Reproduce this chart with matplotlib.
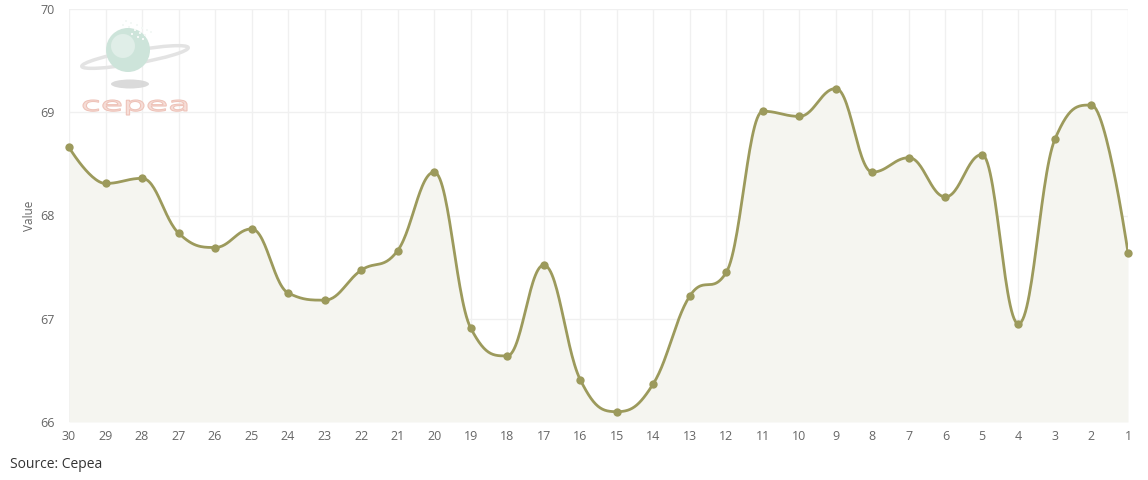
import numpy as np
import matplotlib
matplotlib.use("Agg")
import matplotlib.pyplot as plt
from matplotlib.patches import Circle, Ellipse, PathPatch, Rectangle
from matplotlib.textpath import TextPath
from matplotlib.font_manager import FontProperties
from matplotlib.transforms import Affine2D

plt.rcParams['font.family'] = ['Open Sans', 'DejaVu Sans']

# --- data ---
days = [str(d) for d in range(30, 0, -1)]
values = [68.66, 68.31, 68.36, 67.83, 67.69, 67.87, 67.25, 67.18, 67.47, 67.66,
          68.42, 66.91, 66.64, 67.52, 66.41, 66.10, 66.37, 67.22, 67.45, 69.01,
          68.96, 69.23, 68.42, 68.56, 68.18, 68.59, 66.95, 68.74, 69.07, 67.64]
y_ticks = [66, 67, 68, 69, 70]

LINE = '#9c9a5c'
FILL = '#f5f5f0'
GRID = '#f0f0f0'
TXT = '#666666'


def spline_path(xs, ys, smoothing=1.5, n=30):
    # highcharts-like spline: bezier with collinear control points
    denom = smoothing + 1
    m = len(xs)
    lc = [(x, y) for x, y in zip(xs, ys)]
    rc = [(x, y) for x, y in zip(xs, ys)]
    for i in range(1, m - 1):
        px, py = xs[i], ys[i]
        lx, ly = xs[i - 1], ys[i - 1]
        nx, ny = xs[i + 1], ys[i + 1]
        lcx = (smoothing * px + lx) / denom
        lcy = (smoothing * py + ly) / denom
        rcx = (smoothing * px + nx) / denom
        rcy = (smoothing * py + ny) / denom
        if rcx != lcx:
            corr = (rcy - lcy) * (rcx - px) / (rcx - lcx) + py - rcy
            lcy += corr
            rcy += corr
        if lcy > ly and lcy > py:
            lcy = max(ly, py)
            rcy = 2 * py - lcy
        elif lcy < ly and lcy < py:
            lcy = min(ly, py)
            rcy = 2 * py - lcy
        if rcy > ny and rcy > py:
            rcy = max(ny, py)
            lcy = 2 * py - rcy
        elif rcy < ny and rcy < py:
            rcy = min(ny, py)
            lcy = 2 * py - rcy
        lc[i] = (lcx, lcy)
        rc[i] = (rcx, rcy)
    t = np.linspace(0, 1, n)[:, None]
    out = [np.array([[xs[0], ys[0]]])]
    for i in range(1, m):
        p0 = np.array([xs[i - 1], ys[i - 1]])
        p1 = np.array(rc[i - 1])
        p2 = np.array(lc[i])
        p3 = np.array([xs[i], ys[i]])
        seg = ((1 - t) ** 3) * p0 + 3 * ((1 - t) ** 2) * t * p1 + 3 * (1 - t) * t ** 2 * p2 + t ** 3 * p3
        out.append(seg[1:])
    pts = np.vstack(out)
    return pts[:, 0], pts[:, 1]


W, H = 1148, 480
fig = plt.figure(figsize=(W / 100, H / 100), dpi=100)
left, right, top, bottom = 69, 1128, 9, 422
ax = fig.add_axes([left / W, 1 - bottom / H, (right - left) / W, (bottom - top) / H])

x = np.arange(len(days))
sx, sy = spline_path(list(x), values)
ax.fill_between(sx, sy, 66, color=FILL, zorder=1, linewidth=0)
ax.plot(sx, sy, color=LINE, lw=2, zorder=3, solid_capstyle='round')
ax.scatter(x, values, s=36, color=LINE, zorder=4, linewidths=0, clip_on=False)

ax.set_xlim(0, len(days) - 1)
ax.set_ylim(66, 70)
ax.set_xticks(x)
ax.set_xticklabels(days)
ax.set_yticks(y_ticks)
ax.grid(True, color=GRID, lw=1, zorder=0)
for s in ax.spines.values():
    s.set_visible(False)
ax.tick_params(axis='both', length=0, colors=TXT, labelsize=9)
ax.tick_params(axis='x', pad=6)
ax.tick_params(axis='y', pad=10)
ax.set_ylabel('Value', color=TXT, fontsize=8.5, labelpad=3)
ax.set_axisbelow(True)

# --- logo overlay (pixel coordinates) ---
lx0, ly0, lw, lh = 75, 12, 120, 110
lax = fig.add_axes([lx0 / W, 1 - (ly0 + lh) / H, lw / W, lh / H])
lax.set_xlim(lx0, lx0 + lw)
lax.set_ylim(ly0 + lh, ly0)
lax.axis('off')
lax.add_patch(Ellipse((130, 84), 38, 9, color='#d6d6d6', alpha=0.9, lw=0))
lax.add_patch(Ellipse((135, 57), 108, 13, angle=-10, fill=False, edgecolor='#e3e3e3', lw=2.5))
lax.add_patch(Circle((128, 50), 22, color='#cde4da', lw=0))
lax.add_patch(Circle((123, 46), 12, color='#e0eee8', lw=0))
# pixel dust on the top right of the globe
dust = [(125, 20), (130, 22), (136, 24), (141, 27), (146, 29), (128, 26), (134, 29),
        (139, 32), (144, 34), (131, 33), (137, 36), (142, 38), (122, 24), (150, 31)]
for dx, dy in dust:
    lax.add_patch(Rectangle((dx, dy), 2.2, 2.2, color='#f4f8f6', lw=0))
# stretched "cepea" word mark
tp = TextPath((0, 0), 'cepea', size=10, prop=FontProperties(family='DejaVu Sans'))
bb = tp.get_extents()
sxl = (187 - 83) / bb.width
syl = (115 - 100) / bb.height
tr = Affine2D().translate(-bb.x0, -bb.y0).scale(sxl, -syl).translate(83, 115)
lax.add_patch(PathPatch(tr.transform_path(tp), facecolor='#f6ddd7', edgecolor='#eec3b9', lw=0.8))

fig.text(10 / W, 1 - 465 / H, 'Source: Cepea', fontsize=10, color='#333333', va='center')

fig.savefig('out.png', dpi=100)
